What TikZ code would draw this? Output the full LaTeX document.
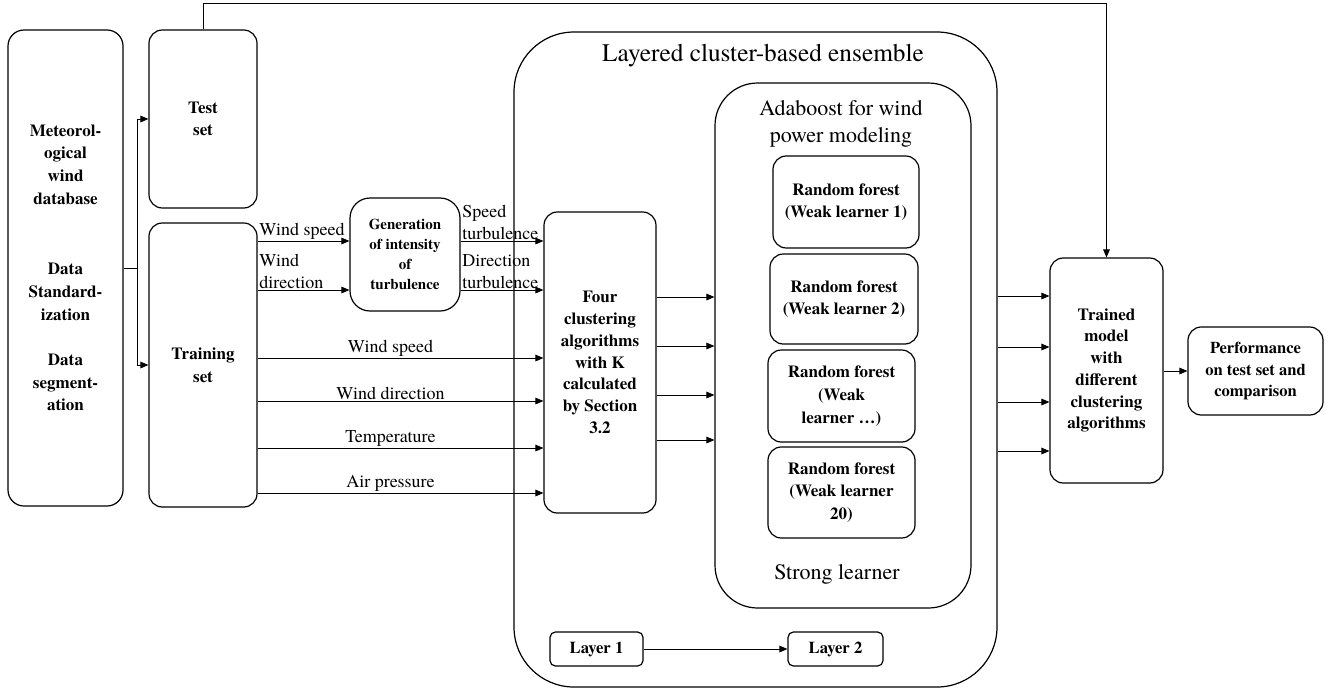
\documentclass[tikz,border=0pt]{standalone}
\usepackage{fontspec}
\setmainfont{texgyretermes}[Extension=.otf, UprightFont=*-regular, BoldFont=*-bold, ItalicFont=*-italic, BoldItalicFont=*-bolditalic]
\usetikzlibrary{arrows.meta,calc}
\begin{document}
\begin{tikzpicture}[x=0.75pt,y=-0.75pt,
 rect/.style n args={4}{minimum width={(#3-#1)*0.75pt}, minimum height={(#4-#2)*0.75pt}, at={({(#1+#3)/2},{(#2+#4)/2})}},
 box/.style={draw, line width=0.9pt, rounded corners=10pt, inner sep=0pt, align=center, font=\bfseries\fontsize{12.75}{17}\selectfont},
 arr/.style={-{Triangle[length=6pt,width=5pt]}, line width=0.6pt},
 ln/.style={line width=0.6pt},
 lbl/.style={font=\fontsize{13.5}{16.5}\selectfont, inner sep=1pt, align=left},
 ttl/.style={font=\fontsize{16.5}{20}\selectfont, align=center, inner sep=1pt},
]
\useasboundingbox (0,0) rectangle (1343,690);

% containers
\node[box, rect={514}{32}{997}{687}, rounded corners=45pt] (big) {};
\node[font=\fontsize{19}{23}\selectfont, inner sep=1pt] (bigtitle) at (763,56) {Layered cluster-based ensemble};
\node[box, rect={715}{83}{971}{608}, rounded corners=32pt] (ada) {};
\node[ttl] (adatitle) at (841,124) {Adaboost for wind\\power modeling};
\node[ttl] (strong) at (837,574) {Strong learner};

% left boxes
\node[box, rect={8}{30}{123}{506}, rounded corners=12pt] (db) {Meteorol-\\ogical\\wind\\database\\[36pt]Data\\Standard-\\ization\\[17pt]Data\\segment-\\ation};
\node[box, rect={149}{30}{257}{208}] (test) {Test\\set};
\node[box, rect={149}{223}{257}{507}] (train) {Training\\set};
\node[box, rect={350}{198}{460}{311}, rounded corners=15pt, font=\bfseries\fontsize{11.25}{15}\selectfont] (gen) {Generation\\of intensity\\of\\turbulence};
\node[box, rect={544}{212}{656}{513}, font=\bfseries\fontsize{12.75}{16.3}\selectfont] (four) {Four\\clustering\\algorithms\\with K\\calculated\\by Section\\3.2};

% random forests
\begin{scope}[every node/.append style={font=\bfseries\fontsize{12}{16.5}\selectfont}]
\node[box, rect={773}{156}{919}{248}] (rf1) {Random forest\\(Weak learner 1)};
\node[box, rect={770}{254}{918}{344}] (rf2) {Random forest\\(Weak learner 2)};
\node[box, rect={768}{350}{915}{442}] (rf3) {Random forest\\(Weak\\learner \dots)};
\node[box, rect={768}{447}{915}{538}] (rf4) {Random forest\\(Weak learner\\20)};
\end{scope}

% right
\node[box, rect={1050}{258}{1163}{483}, font=\bfseries\fontsize{12.75}{16.3}\selectfont] (trained) {Trained\\model\\with\\different\\clustering\\algorithms};
\node[box, rect={1188}{327}{1323}{415}, font=\bfseries\fontsize{12.4}{16.3}\selectfont] (perf) {Performance\\on test set and\\comparison};

% layers
\node[box, rect={550}{632}{643}{666}, rounded corners=4pt, font=\bfseries\fontsize{12.5}{15}\selectfont] (l1) {Layer 1};
\node[box, rect={788}{632}{883}{666}, rounded corners=4pt, font=\bfseries\fontsize{12.5}{15}\selectfont] (l2) {Layer 2};
\draw[arr] (l1) -- (l2);

% split
\coordinate (sp) at (137,268);
\draw[ln] (db.east |- sp) -- (sp);
\draw[arr] (sp) |- (test.west);
\draw[arr] (sp) |- (train.west);

% feedback
\coordinate (fbtop) at (1106.5,3);
\draw[arr] (test.north) |- (fbtop) -- (trained.north);

% to generation
\draw[arr] (train.east |- 0,241) -- node[lbl, anchor=south west, pos=0] {Wind speed} (gen.west |- 0,241);
\draw[arr] (train.east |- 0,290) -- node[lbl, anchor=south west, pos=0] {Wind\\direction} (gen.west |- 0,290);
\draw[arr] (gen.east |- 0,241) -- node[lbl, anchor=south west, pos=0] {Speed\\turbulence} (four.west |- 0,241);
\draw[arr] (gen.east |- 0,290) -- node[lbl, anchor=south west, pos=0] {Direction\\turbulence} (four.west |- 0,290);

% direct features
\draw[arr] (train.east |- 0,358) -- node[lbl, above, pos=0.465] {Wind speed} (four.west |- 0,358);
\draw[arr] (train.east |- 0,401) -- node[lbl, above, pos=0.465] {Wind direction} (four.west |- 0,401);
\draw[arr] (train.east |- 0,448) -- node[lbl, above, pos=0.465] {Temperature} (four.west |- 0,448);
\draw[arr] (train.east |- 0,493) -- node[lbl, above, pos=0.465] {Air pressure} (four.west |- 0,493);

% four -> adaboost
\foreach \yy in {297,346,395,440}
  \draw[arr] (four.east |- 0,\yy) -- (ada.west |- 0,\yy);

% big -> trained
\foreach \yy in {296,347,402,451}
  \draw[arr] (big.east |- 0,\yy) -- (trained.west |- 0,\yy);

\draw[arr] (trained.east |- perf.west) -- (perf.west);
\end{tikzpicture}
\end{document}
